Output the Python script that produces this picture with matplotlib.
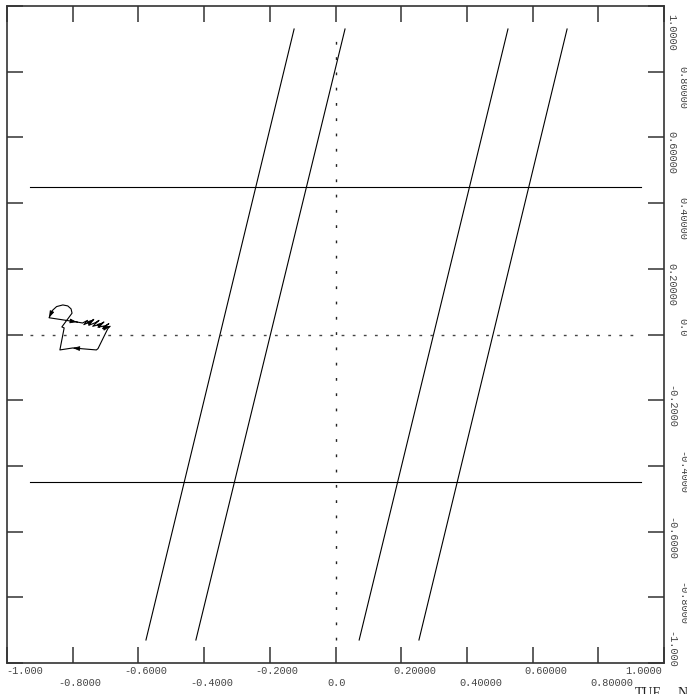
import matplotlib
matplotlib.use("Agg")
import matplotlib.pyplot as plt
import matplotlib.transforms as mtransforms

# ---------------- data ----------------
x_ticks = [-1.0, -0.8, -0.6, -0.4, -0.2, 0.0, 0.2, 0.4, 0.6, 0.8, 1.0]
x_tick_labels = ["-1.000", "-0.8000", "-0.6000", "-0.4000", "-0.2000", "0.0",
                 "0.20000", "0.40000", "0.60000", "0.80000", "1.0000"]
y_ticks = [1.0, 0.8, 0.6, 0.4, 0.2, 0.0, -0.2, -0.4, -0.6, -0.8, -1.0]
y_tick_labels = ["1.0000", "0.80000", "0.60000", "0.40000", "0.20000", "0.0",
                 "-0.2000", "-0.4000", "-0.6000", "-0.8000", "-1.000"]

# horizontal reference lines
hline_y = [0.45, -0.45]
hline_x_span = [-0.93, 0.93]

# slanted lines (x at bottom end, x at top end)
slant_y_span = [-0.93, 0.93]
slant_x_bottom = [-0.577, -0.425, 0.072, 0.254]
slant_x_top = [-0.126, 0.029, 0.525, 0.705]

# dotted axes through origin
dot_span = [-0.93, 0.93]

# small trajectory
traj_x = [-0.787, -0.770, -0.755, -0.766, -0.746, -0.736, -0.751, -0.731, -0.720,
          -0.739, -0.715, -0.705, -0.723, -0.700, -0.690, -0.709, -0.686, -0.693,
          -0.723, -0.728, -0.800, -0.839, -0.826, -0.833, -0.802,
          -0.805, -0.815, -0.830, -0.849, -0.862, -0.872, -0.787]
traj_y = [0.038, 0.035, 0.043, 0.030, 0.039, 0.046, 0.028, 0.036, 0.043,
          0.025, 0.031, 0.038, 0.022, 0.027, 0.033, 0.018, 0.025, 0.018,
          -0.043, -0.047, -0.041, -0.047, 0.020, 0.023, 0.065,
          0.078, 0.087, 0.090, 0.085, 0.073, 0.051, 0.038]
arrow_idx = [5, 11, 16, 20, 30, 31]

# ---------------- figure ----------------
W, H = 687, 694
fig = plt.figure(figsize=(W / 100, H / 100), dpi=100)
L, R, T, B = 7, 664, 6, 663
ax = fig.add_axes([L / W, 1 - B / H, (R - L) / W, (B - T) / H])
ax.set_xlim(-1, 1)
ax.set_ylim(-1, 1)

frame_col = "#333333"
for sp in ax.spines.values():
    sp.set_color(frame_col)
    sp.set_linewidth(1.2)

ax.set_xticks(x_ticks)
ax.set_yticks(y_ticks)
ax.tick_params(which="both", direction="in", length=11.5, width=1.1, color=frame_col,
               top=True, right=True, bottom=True, left=True,
               labelbottom=False, labelleft=False, labeltop=False, labelright=False)

lc = "black"
lw = 0.8
for yv in hline_y:
    ax.plot(hline_x_span, [yv, yv], color=lc, lw=lw)
for xb, xt in zip(slant_x_bottom, slant_x_top):
    ax.plot([xb, xt], slant_y_span, color=lc, lw=lw)

ax.plot([0, 0], dot_span, color="#222222", lw=1.0, dashes=(2.0, 9.0))
ax.plot(dot_span, [0, 0], color="#444444", lw=1.0, dashes=(2.0, 6.0))

ax.plot(traj_x, traj_y, color=lc, lw=0.8)
for i in arrow_idx:
    x0, y0 = traj_x[i - 1], traj_y[i - 1]
    x1, y1 = traj_x[i], traj_y[i]
    xs = x1 - 0.1 * (x1 - x0)
    ys = y1 - 0.1 * (y1 - y0)
    ax.annotate("", xy=(x1, y1), xytext=(xs, ys),
                arrowprops=dict(arrowstyle="-|>,head_length=0.45,head_width=0.15",
                                color=lc, lw=0.6, shrinkA=0, shrinkB=0,
                                mutation_scale=9))

# ---------------- tick labels ----------------
px = 0.72  # points per pixel at dpi 100
lab_col = "#444444"
fs = 7.4
fam = "Liberation Mono"

btrans = mtransforms.blended_transform_factory(ax.transData, ax.transAxes)
n = len(x_ticks)
for i, (v, s) in enumerate(zip(x_ticks, x_tick_labels)):
    dy = -7.7 if i % 2 == 0 else -19.7
    if i == 0:
        dx, ha = -1, "left"
    elif i == n - 1:
        dx, ha = -2, "right"
    else:
        dx = -14 if s.startswith("-") else -8
        ha = "left"
    ax.annotate(s, xy=(v, 0), xycoords=btrans, xytext=(dx * px, dy * px),
                textcoords="offset points", ha=ha, va="center", fontsize=fs,
                family=fam, color=lab_col, annotation_clip=False)

rtrans = mtransforms.blended_transform_factory(ax.transAxes, ax.transData)
for i, (v, s) in enumerate(zip(y_ticks, y_tick_labels)):
    dx = 7.5 if i % 2 == 0 else 18.5
    if i == 0:
        dy, ha = 8, "left"
    elif i == len(y_ticks) - 1:
        dy, ha = 5, "right"
    elif s == "0.0":
        dy, ha = -16, "left"
    else:
        dy = -15 if s.startswith("-") else -6
        ha = "left"
    ax.annotate(s, xy=(1, v), xycoords=rtrans, xytext=(dx * px, -dy * px),
                textcoords="offset points", ha=ha, va="center", rotation=-90,
                rotation_mode="anchor", fontsize=fs, family=fam, color=lab_col,
                annotation_clip=False)

# bottom-right caption (partially cut off)
fig.text(635 / W, 1 - 687 / H, "TUE", ha="left", va="top", fontsize=10,
         family="Liberation Serif", color="#222222")
fig.text(678 / W, 1 - 687 / H, "N", ha="left", va="top", fontsize=10,
         family="Liberation Serif", color="#222222")

fig.savefig("out.png", dpi=100)
